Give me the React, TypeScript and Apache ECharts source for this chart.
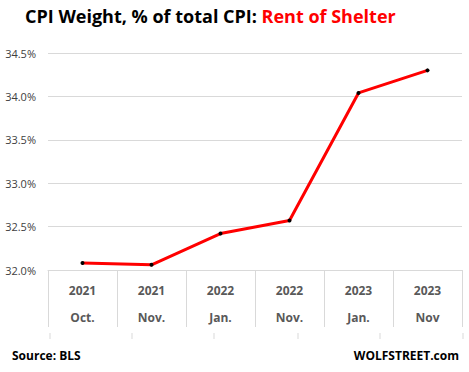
import React, { useEffect, useRef } from "react";
import * as echarts from "echarts";

const years = ["2021", "2021", "2022", "2022", "2023", "2023"];
const months = ["Oct.", "Nov.", "Jan.", "Nov.", "Jan.", "Nov"];
const weights = [32.08, 32.06, 32.42, 32.57, 34.04, 34.3];
const categories = years.map((y, i) => y + "|" + months[i]);

const FONT = "'Open Sans', 'Liberation Sans', sans-serif";

export default function App() {
  const ref = useRef<HTMLDivElement>(null);
  useEffect(() => {
    document.body.style.margin = "0";
    if (!ref.current) return;
    const chart = echarts.init(ref.current, undefined, { renderer: "svg" });
    const stubX = [50, 132, 214, 298, 380, 463];
    chart.setOption({
      animation: false,
      backgroundColor: "#ffffff",
      grid: { left: 48, right: 7, top: 53, bottom: 102, containLabel: false },
      xAxis: {
        type: "category",
        data: categories,
        boundaryGap: true,
        axisLine: { show: true, lineStyle: { color: "#d9d9d9", width: 1 } },
        axisTick: { show: true, interval: 0, length: 57, lineStyle: { color: "#d9d9d9" } },
        axisLabel: {
          interval: 0,
          margin: 7,
          formatter: (v: string) => {
            const [y, m] = v.split("|");
            return "{a|" + y + "}\n{a|" + m + "}";
          },
          rich: {
            a: { fontFamily: FONT, fontWeight: "bold", fontSize: 12, color: "#595959", lineHeight: 27 },
          },
        },
      },
      yAxis: {
        type: "value",
        min: 32,
        max: 34.5,
        interval: 0.5,
        axisLine: { show: false },
        axisTick: { show: false },
        splitLine: { lineStyle: { color: "#d9d9d9", width: 1 } },
        axisLabel: {
          margin: 12,
          fontFamily: FONT,
          fontSize: 11,
          color: "#404040",
          formatter: (v: number) => v.toFixed(1) + "%",
        },
      },
      series: [
        {
          type: "line",
          data: weights,
          lineStyle: { color: "#ff0000", width: 3 },
          itemStyle: { color: "#000000" },
          symbol: "circle",
          symbolSize: 4,
          z: 3,
        },
      ],
      graphic: [
        {
          type: "text",
          style: {
            x: 25,
            y: 7,
            align: "left",
            verticalAlign: "top",
            text: "{b|CPI Weight, % of total CPI: }{r|Rent of Shelter}",
            rich: {
              b: { fontFamily: FONT, fontWeight: "bold", fontSize: 18, fill: "#000000" },
              r: { fontFamily: FONT, fontWeight: "bold", fontSize: 18, fill: "#ff0000" },
            },
          },
        },
        ...stubX.map((x) => ({
          type: "line",
          shape: { x1: x, y1: 333, x2: x, y2: 339 },
          style: { stroke: "#d9d9d9", lineWidth: 1 },
        })),
        {
          type: "text",
          left: 12,
          top: 349,
          style: { text: "Source: BLS", fontFamily: FONT, fontWeight: "bold", fontSize: 12, fill: "#000000" },
        },
        {
          type: "text",
          right: 10,
          top: 349,
          style: { text: "WOLFSTREET.com", fontFamily: FONT, fontWeight: "bold", fontSize: 12, fill: "#000000" },
        },
      ],
    });
    return () => chart.dispose();
  }, []);
  return <div ref={ref} style={{ width: 469, height: 372 }} />;
}
